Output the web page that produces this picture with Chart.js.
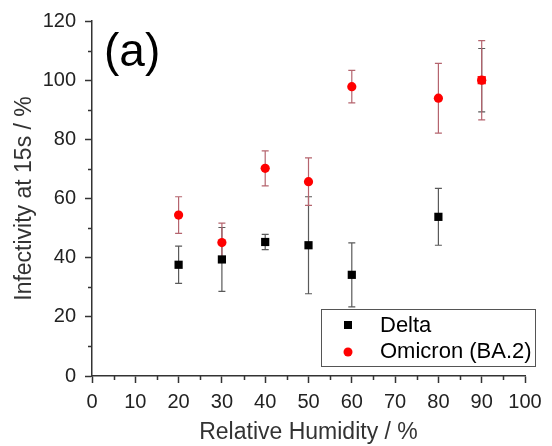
<!DOCTYPE html>
<html>
<head>
<meta charset="utf-8">
<script src="https://cdn.jsdelivr.net/npm/chart.js@4"></script>
<style>
  html, body { margin: 0; padding: 0; background: #fff; }
  #wrap { width: 552px; height: 446px; }
</style>
</head>
<body>
<div id="wrap"><canvas id="rh-chart"></canvas></div>
<script>
// data
const humidity = [20, 30, 40, 50, 60, 80, 90]
const deltaValues = [37.6, 39.4, 45.3, 44.2, 34.2, 53.8, 100]
const deltaErrors = [6.3, 10.8, 2.6, 16.4, 10.8, 9.6, 10.7]
const omicronValues = [54.4, 45.1, 70.2, 65.7, 97.8, 93.9, 100]
const omicronErrors = [6.2, 6.6, 5.9, 8.0, 5.5, 11.8, 13.4]
const seriesLabels = ['Delta', 'Omicron (BA.2)']

const FONT = "'Liberation Sans', Arial, sans-serif"
const axisColor = '#333'

function toPoints(values) {
  return humidity.map((x, i) => ({ x: x, y: values[i] }))
}

// error bars drawn under the markers
const errorBars = {
  id: 'errorBars',
  beforeDatasetsDraw(chart) {
    const ctx = chart.ctx
    const xs = chart.scales.x
    const ys = chart.scales.y
    const sets = [
      { values: deltaValues, errors: deltaErrors, color: '#5a5a5a' },
      { values: omicronValues, errors: omicronErrors, color: '#b5646e' },
    ]
    ctx.save()
    ctx.lineWidth = 1.2
    sets.forEach((s) => {
      ctx.strokeStyle = s.color
      humidity.forEach((x, i) => {
        const px = xs.getPixelForValue(x)
        const top = ys.getPixelForValue(s.values[i] + s.errors[i])
        const bot = ys.getPixelForValue(s.values[i] - s.errors[i])
        ctx.beginPath()
        ctx.moveTo(px, top)
        ctx.lineTo(px, bot)
        ctx.moveTo(px - 3.5, top)
        ctx.lineTo(px + 3.5, top)
        ctx.moveTo(px - 3.5, bot)
        ctx.lineTo(px + 3.5, bot)
        ctx.stroke()
      })
    })
    ctx.restore()
  },
}

// minor ticks, panel letter and the boxed legend
const decorations = {
  id: 'decorations',
  afterDraw(chart) {
    const ctx = chart.ctx
    const xs = chart.scales.x
    const ys = chart.scales.y
    const area = chart.chartArea
    ctx.save()
    ctx.strokeStyle = axisColor
    ctx.lineWidth = 1.5
    ctx.beginPath()
    for (let v = 5; v < 100; v += 10) {
      const px = Math.round(xs.getPixelForValue(v)) + 0.5
      ctx.moveTo(px, area.bottom)
      ctx.lineTo(px, area.bottom + 4)
    }
    for (let v = 10; v < 120; v += 20) {
      const py = Math.round(ys.getPixelForValue(v)) + 0.5
      ctx.moveTo(area.left, py)
      ctx.lineTo(area.left - 4, py)
    }
    ctx.stroke()

    // panel label
    ctx.fillStyle = '#000'
    ctx.font = '46px ' + FONT
    ctx.textBaseline = 'alphabetic'
    ctx.textAlign = 'left'
    ctx.fillText('(a)', area.left + 12, area.top + 45)

    // legend
    const boxRight = area.right + 10
    const boxBottom = area.bottom - 10
    const boxW = 214
    const boxH = 57
    const bx = boxRight - boxW
    const by = boxBottom - boxH
    ctx.strokeStyle = '#555'
    ctx.lineWidth = 1
    ctx.strokeRect(Math.round(bx) + 0.5, Math.round(by) + 0.5, boxW, boxH)
    ctx.font = '22px ' + FONT
    ctx.textBaseline = 'middle'
    ctx.fillStyle = '#000'
    ctx.fillRect(bx + 23, by + 12, 8, 8)
    ctx.fillText(seriesLabels[0], bx + 59, by + 17)
    ctx.fillStyle = '#ff0000'
    ctx.beginPath()
    ctx.arc(bx + 27, by + 43, 4.5, 0, Math.PI * 2)
    ctx.fill()
    ctx.fillStyle = '#000'
    ctx.fillText(seriesLabels[1], bx + 59, by + 43)
    ctx.restore()
  },
}

const rhCtx = document.querySelector('#rh-chart')
const rhChart = new Chart(rhCtx, {
  type: 'scatter',
  data: {
    datasets: [
      {
        label: seriesLabels[0],
        data: toPoints(deltaValues),
        pointStyle: 'rect',
        pointRadius: 5.8,
        pointHoverRadius: 5.8,
        borderWidth: 0,
        backgroundColor: (c) => (c.raw && c.raw.x === 90 ? '#ff0000' : '#000'),
        borderColor: 'rgba(0,0,0,0)',
      },
      {
        label: seriesLabels[1],
        data: toPoints(omicronValues),
        pointStyle: 'circle',
        pointRadius: 4.6,
        pointHoverRadius: 4.6,
        borderWidth: 0,
        backgroundColor: '#ff0000',
        borderColor: 'rgba(0,0,0,0)',
      },
    ],
  },
  options: {
    responsive: true,
    maintainAspectRatio: false,
    animation: false,
    events: [],
    layout: {
      padding: { top: 20, right: 27, left: 0, bottom: 0 },
    },
    plugins: {
      legend: { display: false },
      tooltip: { enabled: false },
    },
    scales: {
      x: {
        type: 'linear',
        min: 0,
        max: 100,
        afterFit: (scale) => { scale.height = 70 },
        ticks: {
          stepSize: 10,
          padding: 7,
          color: '#222',
          font: { family: FONT, size: 20 },
          maxRotation: 0,
        },
        grid: {
          drawOnChartArea: false,
          tickLength: 7,
          tickColor: axisColor,
          tickWidth: 1.5,
        },
        border: { color: axisColor, width: 1.5 },
        title: {
          display: true,
          text: 'Relative Humidity / %',
          color: '#333',
          font: { family: FONT, size: 23 },
          padding: { top: 0, bottom: 0 },
        },
      },
      y: {
        type: 'linear',
        min: 0,
        max: 120,
        afterFit: (scale) => { scale.width = 92 },
        ticks: {
          stepSize: 20,
          padding: 9,
          color: '#222',
          font: { family: FONT, size: 20 },
        },
        grid: {
          drawOnChartArea: false,
          tickLength: 7,
          tickColor: axisColor,
          tickWidth: 1.5,
        },
        border: { color: axisColor, width: 1.5 },
        title: {
          display: true,
          text: 'Infectivity at 15s / %',
          color: '#333',
          font: { family: FONT, size: 23 },
          padding: { top: 11, bottom: 0 },
        },
      },
    },
  },
  plugins: [errorBars, decorations],
})
</script>
</body>
</html>
